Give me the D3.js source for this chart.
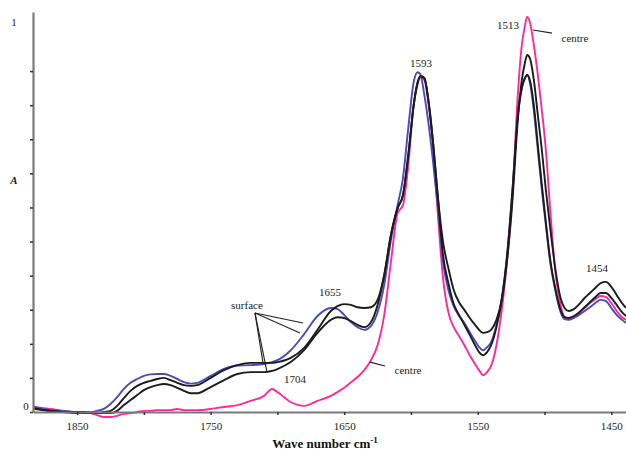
<!DOCTYPE html>
<html>
<head>
<meta charset="utf-8">
<script src="https://cdn.jsdelivr.net/npm/d3@7"></script>
<style>
  body { margin: 0; background: #fff; }
  text { font-family: "Liberation Serif", "DejaVu Serif", serif; }
</style>
</head>
<body>
<div id="chart"></div>
<script>
// wave numbers (cm-1) shared by all four spectra
var waveNumbers = [1882, 1875, 1870, 1860, 1850, 1845, 1840, 1835, 1830, 1825, 1820, 1815, 1810, 1805, 1800,
  1795, 1790, 1785, 1780, 1775, 1770, 1765, 1760, 1750, 1740, 1730, 1720, 1710, 1704, 1700, 1690, 1680,
  1670, 1660, 1655, 1650, 1645, 1640, 1635, 1630, 1625, 1620, 1615, 1610, 1606, 1602, 1598, 1595, 1593,
  1590, 1587, 1584, 1580, 1576, 1572, 1568, 1564, 1560, 1556, 1552, 1549, 1546, 1543, 1540, 1536, 1532,
  1528, 1524, 1520, 1517, 1515, 1513, 1511, 1508, 1505, 1502, 1499, 1496, 1492, 1488, 1485, 1482, 1478,
  1474, 1470, 1466, 1462, 1458, 1454, 1450, 1446, 1442, 1439];

// centre spectrum (magenta)
var centre = [0.013, 0.010, 0.008, 0.003, 0, 0, -0.003, -0.008, -0.013, -0.013, -0.010, -0.005, -0.003, 0, 0.003,
  0.003, 0.005, 0.005, 0.005, 0.008, 0.005, 0.005, 0.005, 0.008, 0.013, 0.018, 0.029, 0.042, 0.060, 0.052, 0.026, 0.016,
  0.029, 0.042, 0.052, 0.063, 0.077, 0.091, 0.109, 0.135, 0.174, 0.253, 0.391, 0.518, 0.539, 0.643, 0.799, 0.854, 0.872,
  0.865, 0.807, 0.714, 0.521, 0.349, 0.260, 0.221, 0.198, 0.174, 0.148, 0.125, 0.109, 0.096, 0.104, 0.120, 0.174, 0.266,
  0.396, 0.565, 0.826, 0.956, 1.000, 1.029, 1.016, 0.956, 0.878, 0.786, 0.682, 0.539, 0.370, 0.279, 0.247, 0.242, 0.247,
  0.258, 0.271, 0.284, 0.294, 0.302, 0.299, 0.284, 0.263, 0.247, 0.240];

// surface spectrum (blue)
var surfaceBlue = [0.013, 0.008, 0.005, 0.003, 0, 0, 0, 0.003, 0.008, 0.021, 0.039, 0.060, 0.076, 0.086, 0.094,
  0.098, 0.099, 0.099, 0.094, 0.086, 0.078, 0.074, 0.076, 0.094, 0.112, 0.121, 0.122, 0.125, 0.130, 0.135, 0.161, 0.203,
  0.250, 0.271, 0.268, 0.253, 0.234, 0.221, 0.214, 0.224, 0.260, 0.331, 0.448, 0.539, 0.609, 0.740, 0.859, 0.885, 0.880,
  0.826, 0.755, 0.669, 0.539, 0.391, 0.318, 0.276, 0.250, 0.232, 0.208, 0.185, 0.169, 0.161, 0.169, 0.182, 0.227, 0.297,
  0.409, 0.578, 0.773, 0.844, 0.867, 0.878, 0.859, 0.786, 0.682, 0.578, 0.487, 0.396, 0.318, 0.260, 0.242, 0.240, 0.245,
  0.253, 0.263, 0.273, 0.284, 0.292, 0.289, 0.271, 0.253, 0.240, 0.232];

// surface spectra (black)
var surfaceBlack1 = [0.010, 0.005, 0.003, 0, 0, 0, -0.003, -0.003, 0, 0.003, 0.016, 0.036, 0.055, 0.068, 0.076,
  0.081, 0.086, 0.089, 0.083, 0.076, 0.070, 0.068, 0.070, 0.089, 0.109, 0.122, 0.128, 0.128, 0.128, 0.130, 0.141, 0.167,
  0.214, 0.263, 0.276, 0.281, 0.279, 0.273, 0.271, 0.273, 0.292, 0.357, 0.461, 0.531, 0.565, 0.669, 0.799, 0.859, 0.875,
  0.870, 0.813, 0.721, 0.565, 0.443, 0.375, 0.318, 0.286, 0.266, 0.245, 0.227, 0.214, 0.206, 0.208, 0.214, 0.240, 0.292,
  0.396, 0.552, 0.760, 0.865, 0.904, 0.930, 0.922, 0.865, 0.773, 0.682, 0.578, 0.487, 0.375, 0.297, 0.271, 0.263, 0.268,
  0.281, 0.297, 0.310, 0.323, 0.336, 0.339, 0.326, 0.305, 0.284, 0.271];

var surfaceBlack2 = [0.008, 0.005, 0.003, 0, -0.003, -0.003, -0.003, -0.003, -0.003, -0.003, 0.003, 0.018, 0.031, 0.044, 0.057,
  0.065, 0.070, 0.073, 0.070, 0.063, 0.055, 0.049, 0.049, 0.065, 0.083, 0.099, 0.104, 0.104, 0.107, 0.112, 0.130, 0.161,
  0.206, 0.240, 0.247, 0.245, 0.237, 0.227, 0.221, 0.234, 0.279, 0.357, 0.461, 0.531, 0.565, 0.669, 0.799, 0.859, 0.875,
  0.870, 0.813, 0.721, 0.565, 0.409, 0.336, 0.281, 0.253, 0.227, 0.201, 0.174, 0.156, 0.148, 0.156, 0.174, 0.221, 0.292,
  0.409, 0.578, 0.773, 0.844, 0.867, 0.878, 0.865, 0.799, 0.695, 0.591, 0.495, 0.404, 0.323, 0.266, 0.247, 0.245, 0.250,
  0.260, 0.273, 0.286, 0.299, 0.310, 0.310, 0.297, 0.279, 0.260, 0.250];

var xTicks = [1850, 1800, 1750, 1700, 1650, 1600, 1550, 1500, 1450];
var xTickLabels = [1850, 1750, 1650, 1550, 1450];
var yTickStep = 0.0888;
var yTickLabels = [0, 1];

var svgWidth = 626;
var svgHeight = 453;

var margin = { top: 12, right: 0, bottom: 41, left: 33 };
var width = svgWidth - margin.left - margin.right;
var height = svgHeight - margin.top - margin.bottom;

var svg = d3.select("#chart")
  .append("svg")
  .attr("width", svgWidth)
  .attr("height", svgHeight);

var chartGroup = svg.append("g")
  .attr("transform", `translate(${margin.left}, ${margin.top})`);

var xScale = d3.scaleLinear()
  .domain([1883, 1439])
  .range([0, width]);

var yScale = d3.scaleLinear()
  .domain([0, 1.042])
  .range([height, 0]);

var yTicks = d3.range(0, 0.97, yTickStep);

// curves
var series = [
  { values: centre, color: "#ff2a9a" },
  { values: surfaceBlue, color: "#4b4bb8" },
  { values: surfaceBlack2, color: "#1c1c1c" },
  { values: surfaceBlack1, color: "#1c1c1c" }
];

var line = d3.line()
  .x(d => xScale(d[0]))
  .y(d => yScale(d[1]))
  .curve(d3.curveMonotoneX);

series.forEach(function(s) {
  chartGroup.append("path")
    .datum(waveNumbers.map((w, i) => [w, s.values[i]]))
    .attr("fill", "none")
    .attr("stroke", s.color)
    .attr("stroke-width", 1.9)
    .attr("stroke-linejoin", "round")
    .attr("d", line);
});

// axes
var bottomAxis = d3.axisBottom(xScale)
  .tickValues(xTicks)
  .tickSize(3)
  .tickSizeOuter(0)
  .tickFormat(d => xTickLabels.indexOf(d) >= 0 ? d : "");

var leftAxis = d3.axisLeft(yScale)
  .tickValues(yTicks)
  .tickSize(3)
  .tickSizeOuter(0)
  .tickFormat("");

var xAxisG = chartGroup.append("g")
  .attr("transform", `translate(0, ${height})`)
  .call(bottomAxis);

var yAxisG = chartGroup.append("g")
  .call(leftAxis);

[xAxisG, yAxisG].forEach(function(g) {
  g.select(".domain").attr("stroke", "#7a7a7a").attr("stroke-width", 2.2);
  g.selectAll(".tick line").attr("stroke", "#333").attr("stroke-width", 1.5);
});

xAxisG.selectAll(".tick text")
  .attr("font-size", "11px")
  .attr("fill", "#222")
  .attr("y", 10);

chartGroup.selectAll(".ylab")
  .data(yTickLabels)
  .enter()
  .append("text")
  .attr("class", "ylab")
  .attr("x", d => d === 0 ? -7 : -19)
  .attr("y", d => yScale(d) - 2)
  .attr("text-anchor", "middle")
  .attr("font-size", "11px")
  .attr("fill", "#222")
  .text(d => d);

chartGroup.append("text")
  .attr("x", -19)
  .attr("y", height / 2 - 28)
  .attr("text-anchor", "middle")
  .attr("font-size", "11px")
  .attr("font-weight", "bold")
  .attr("font-style", "italic")
  .attr("fill", "#222")
  .text("A");

var xTitle = chartGroup.append("text")
  .attr("x", 292)
  .attr("y", height + 36)
  .attr("text-anchor", "middle")
  .attr("font-size", "13px")
  .attr("font-weight", "bold")
  .attr("fill", "#111");
xTitle.append("tspan").text("Wave number cm");
xTitle.append("tspan").attr("dy", -5).attr("font-size", "9px").text("-1");

// annotations
function label(wn, a, txt) {
  chartGroup.append("text")
    .attr("x", xScale(wn))
    .attr("y", yScale(a))
    .attr("text-anchor", "middle")
    .attr("font-size", "11px")
    .attr("fill", "#222")
    .text(txt);
}

function leader(w1, a1, w2, a2) {
  chartGroup.append("line")
    .attr("x1", xScale(w1)).attr("y1", yScale(a1))
    .attr("x2", xScale(w2)).attr("y2", yScale(a2))
    .attr("stroke", "#222")
    .attr("stroke-width", 1.1);
}

label(1592.5, 0.898, "1593");
label(1527.4, 0.997, "1513");
label(1460.7, 0.365, "1454");
label(1660.6, 0.302, "1655");
label(1686.8, 0.076, "1704");
label(1722.8, 0.268, "surface");
label(1477.2, 0.964, "centre");
label(1602.2, 0.099, "centre");

leader(1508.6, 0.995, 1494.4, 0.987);
leader(1630.7, 0.130, 1619.4, 0.120);
leader(1716.8, 0.258, 1680.8, 0.232);
leader(1716.8, 0.258, 1683.1, 0.206);
leader(1716.8, 0.258, 1710.8, 0.128);
leader(1716.8, 0.258, 1707.8, 0.104);
</script>
</body>
</html>
